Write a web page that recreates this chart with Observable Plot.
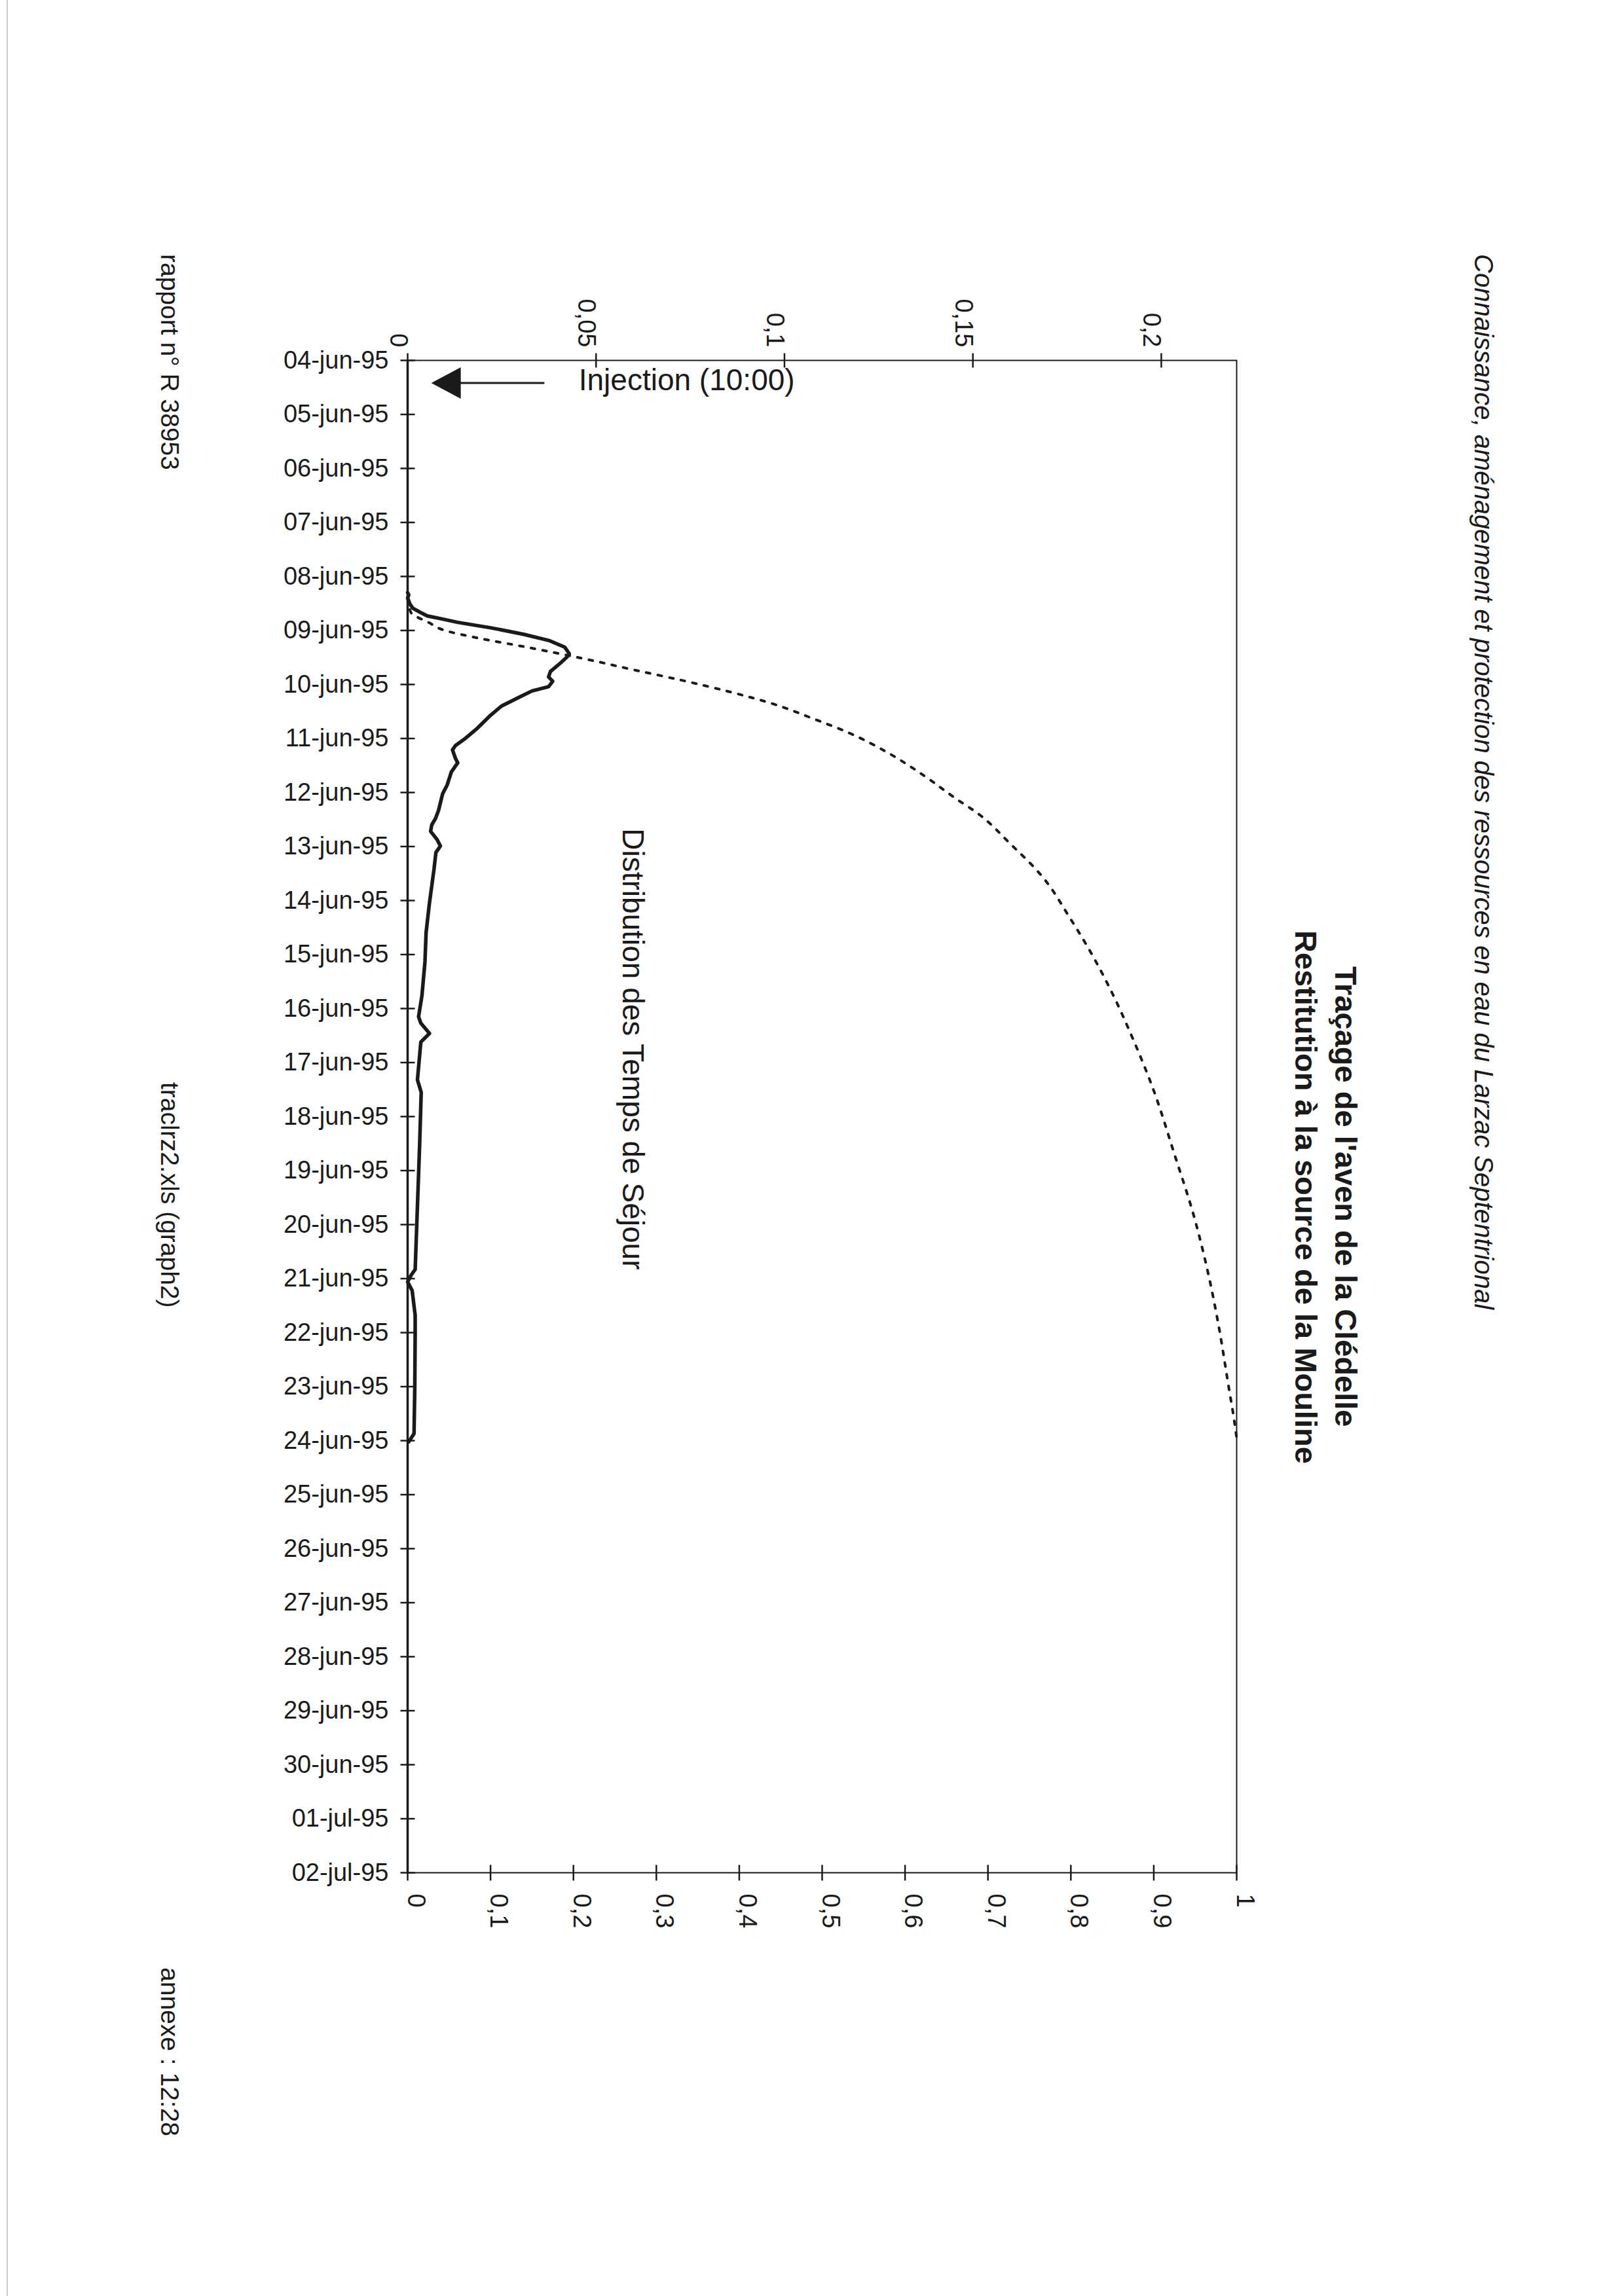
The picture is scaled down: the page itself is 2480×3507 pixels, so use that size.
<!DOCTYPE html>
<html><head><meta charset="utf-8">
<script src="https://cdn.jsdelivr.net/npm/d3@7"></script>
<script src="https://cdn.jsdelivr.net/npm/@observablehq/plot@0.6"></script>
<style>
html,body{margin:0;padding:0;background:#fff;}
#page{position:relative;width:2480px;height:3507px;overflow:hidden;background:#fff;font-family:"Liberation Sans",Arial,sans-serif;color:#1a1a1a;}
.v{position:absolute;writing-mode:vertical-rl;white-space:nowrap;}
#page svg{position:absolute;left:0;top:0;}
#edge{position:absolute;left:10px;top:0;width:2px;height:3507px;background:#c8c8c8;}
</style></head><body><div id="page"><div id="edge"></div></div>
<script>
// ---- data ----
const dateLabels = ["04-jun-95","05-jun-95","06-jun-95","07-jun-95","08-jun-95","09-jun-95","10-jun-95","11-jun-95","12-jun-95","13-jun-95","14-jun-95","15-jun-95","16-jun-95","17-jun-95","18-jun-95","19-jun-95","20-jun-95","21-jun-95","22-jun-95","23-jun-95","24-jun-95","25-jun-95","26-jun-95","27-jun-95","28-jun-95","29-jun-95","30-jun-95","01-jul-95","02-jul-95"];
const topTicks = [0, 0.05, 0.1, 0.15, 0.2];
const bottomTicks = [0, 0.1, 0.2, 0.3, 0.4, 0.5, 0.6, 0.7, 0.8, 0.9, 1];

// Distribution des temps de séjour (solid line, top axis) — day of June (fractional)
const dtsDay = [8.30,8.34,8.40,8.51,8.59,8.67,8.73,8.79,8.85,8.95,9.07,9.19,9.31,9.43,9.49,9.60,9.76,9.86,9.94,10.04,10.12,10.24,10.40,10.57,10.81,11.01,11.13,11.21,11.37,11.45,11.62,11.86,12.02,12.33,12.48,12.60,12.72,12.87,12.99,13.11,13.42,14.04,14.59,15.13,15.76,16.15,16.27,16.46,16.62,17.32,17.55,18.49,19.66,20.83,20.94,21.06,21.22,21.68,22.00,23.00,23.87,24.02];
const dtsValue = [0,0.0003,0,0.0006,0.0014,0.0035,0.0052,0.0093,0.0133,0.0220,0.0307,0.0377,0.0417,0.0429,0.0423,0.0406,0.0379,0.0374,0.0385,0.0374,0.0330,0.0295,0.0249,0.0220,0.0185,0.0151,0.0127,0.0119,0.0127,0.0133,0.0116,0.0105,0.0093,0.0082,0.0074,0.0064,0.0061,0.0078,0.0087,0.0075,0.0070,0.0058,0.0049,0.0046,0.0038,0.0029,0.0035,0.0058,0.0035,0.0026,0.0036,0.0032,0.0026,0.0020,0.0009,0,0.0012,0.0020,0.0020,0.0019,0.0017,0.0003];

// Restitution cumulée (dotted line, bottom axis)
const cumDay = [8.40,8.67,8.72,8.85,8.99,9.15,9.27,9.41,9.52,9.73,9.92,10.13,10.36,10.62,10.90,11.27,11.69,12.11,12.39,12.95,13.51,14.35,14.96,15.75,16.53,17.52,18.70,19.82,20.86,21.85,22.97,23.62,23.95];
const cumValue = [0,0.004,0.008,0.025,0.043,0.088,0.130,0.177,0.212,0.273,0.330,0.387,0.441,0.487,0.533,0.580,0.623,0.661,0.688,0.727,0.763,0.800,0.824,0.851,0.874,0.900,0.925,0.948,0.965,0.978,0.990,0.997,1.000];

// annotations
const injectionDay = 4 + 10/24;          // 04-jun-95 10:00
const injectionText = "Injection (10:00)";
const injectionArrow = {head: 0.0101, tail: 0.0363, label: 0.0454};
const curveLabel = {text: "Distribution des Temps de Séjour", x: 0.0596, day: 16.75};

const headerText = "Connaissance, aménagement et protection des ressources en eau du Larzac Septentrional";
const titleLines = ["Traçage de l'aven de la Clédelle", "Restitution à la source de la Mouline"];
const footerTexts = ["rapport n° R 38953", "traclrz2.xls (graph2)", "annexe : 12:28"];

// ---- helpers ----
const day0 = Date.UTC(1995, 5, 1);
const toDate = d => new Date(day0 + (d - 1) * 864e5);
const months = {jun: 5, jul: 6};
const parseLabel = s => { const [dd, mm, yy] = s.split("-"); return new Date(Date.UTC(1900 + +yy, months[mm], +dd)); };
const tickDates = dateLabels.map(parseLabel);
const yDomain = [tickDates[0], tickDates[tickDates.length - 1]];
const dts = dtsDay.map((d, i) => ({date: toDate(d), value: dtsValue[i]}));
const cum = cumDay.map((d, i) => ({date: toDate(d), value: cumValue[i]}));
const fmt = v => String(v).replace(".", ",");
const ink = "#1a1a1a";

const W = 2000, H = 3000;
const frame = {left: 622, right: 1888, top: 550, bottom: 2860};
const common = {
  width: W, height: H,
  marginLeft: frame.left, marginRight: W - frame.right, marginTop: frame.top, marginBottom: H - frame.bottom,
  y: {type: "utc", domain: yDomain, reverse: true, axis: null},
  style: {background: "transparent", fontFamily: '"Liberation Sans", Arial, sans-serif', color: ink, overflow: "visible"}
};

// tick symbols: short segments crossing the axis
const hTick = {draw(ctx, size) { const r = Math.sqrt(size / Math.PI); ctx.moveTo(-r, 0); ctx.lineTo(r, 0); }};
const vTick = {draw(ctx, size) { const r = Math.sqrt(size / Math.PI); ctx.moveTo(0, -r); ctx.lineTo(0, r); }};
const leftTriangle = {
  draw(context, size) {
    const r = Math.sqrt(size / Math.PI);
    context.moveTo(-1.1 * r, 0);
    context.lineTo(1.15 * r, -1.2 * r);
    context.lineTo(1.15 * r, 1.2 * r);
    context.closePath();
  }
};

const annot = [{date: toDate(injectionDay), head: injectionArrow.head, tail: injectionArrow.tail, label: injectionArrow.label}];

const plotDts = Plot.plot({
  ...common,
  x: {domain: [0, 0.22], axis: null},
  marks: [
    Plot.frame({stroke: ink, strokeWidth: 2}),
    Plot.ruleX([0], {stroke: ink, strokeWidth: 3.5}),
    Plot.dot(tickDates, {x: () => 0, y: d => d, symbol: hTick, r: 11, stroke: ink, strokeWidth: 2.5, fill: "none"}),
    Plot.text(tickDates, {x: () => 0, y: d => d, text: (d, i) => dateLabels[i], textAnchor: "end", dx: -29, fontSize: 38, fill: ink}),
    Plot.dot(topTicks, {x: d => d, frameAnchor: "top", symbol: vTick, r: 11, stroke: ink, strokeWidth: 2.5, fill: "none"}),
    Plot.text(topTicks, {x: d => d, frameAnchor: "top", text: fmt, rotate: 90, textAnchor: "end", dy: -20, fontSize: 38, fill: ink}),
    Plot.line(dts, {x: "value", y: "date", stroke: ink, strokeWidth: 5.5, strokeLinejoin: "round"}),
    Plot.link(annot, {x1: "head", x2: "tail", y1: "date", y2: "date", stroke: ink, strokeWidth: 3}),
    Plot.dot(annot, {x: "head", y: "date", symbol: leftTriangle, r: 20, fill: ink, stroke: "none"}),
    Plot.text(annot, {x: "label", y: "date", text: () => injectionText, textAnchor: "start", dy: -4, fontSize: 46, fill: ink}),
    Plot.text([curveLabel], {x: "x", y: d => toDate(d.day), text: "text", rotate: 90, textAnchor: "middle", fontSize: 46, fill: ink})
  ]
});

const plotCum = Plot.plot({
  ...common,
  x: {domain: [0, 1], axis: null},
  marks: [
    Plot.dot(bottomTicks, {x: d => d, frameAnchor: "bottom", symbol: vTick, r: 12, stroke: ink, strokeWidth: 2.5, fill: "none"}),
    Plot.text(bottomTicks, {x: d => d, frameAnchor: "bottom", text: fmt, rotate: 90, textAnchor: "start", dy: 32, fontSize: 38, fill: ink}),
    Plot.line(cum, {x: "value", y: "date", stroke: ink, strokeWidth: 4, strokeDasharray: "6 12", curve: "monotone-y"})
  ]
});

const page = document.getElementById("page");
page.appendChild(plotDts);
page.appendChild(plotCum);

function vtext(text, {left, top, size, weight = "normal", style = "normal", lineHeight, height, align = "start"}) {
  const el = document.createElement("div");
  el.className = "v";
  el.style.left = left + "px";
  el.style.top = top + "px";
  el.style.fontSize = size + "px";
  el.style.fontWeight = weight;
  el.style.fontStyle = style;
  el.style.lineHeight = (lineHeight || size) + "px";
  if (height) el.style.height = height + "px";
  el.style.textAlign = align;
  el.innerHTML = text;
  page.appendChild(el);
  return el;
}
// header (italic, rotated)
vtext(headerText, {left: 2246, top: 388, size: 40, style: "italic"});
// title (bold, two lines)
vtext(titleLines.join("<br>"), {left: 1964, top: 1328, size: 47, weight: "bold", lineHeight: 61, height: 1000, align: "center"});
// footer
vtext(footerTexts[0], {left: 240, top: 388, size: 39});
vtext(footerTexts[1], {left: 240, top: 1653, size: 39});
vtext(footerTexts[2], {left: 240, top: 3005, size: 39});
</script>
</body></html>
